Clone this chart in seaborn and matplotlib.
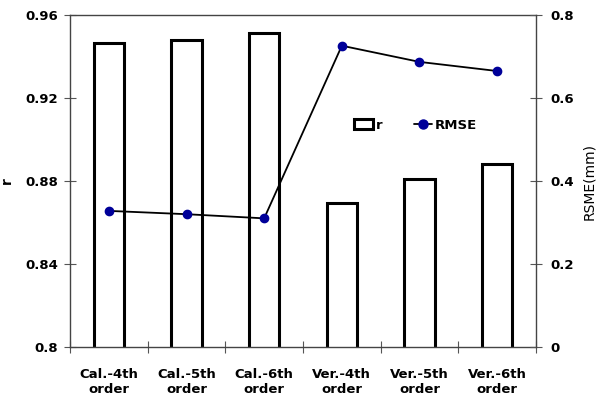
import matplotlib
matplotlib.use("Agg")
import matplotlib.pyplot as plt
import seaborn as sns
import pandas as pd
from matplotlib.patches import Patch
from matplotlib.lines import Line2D

categories = ["Cal.-4th\norder", "Cal.-5th\norder", "Cal.-6th\norder",
              "Ver.-4th\norder", "Ver.-5th\norder", "Ver.-6th\norder"]
r_values = [0.9464, 0.948, 0.9512, 0.8694, 0.881, 0.8882]
rmse_values = [0.328, 0.320, 0.310, 0.726, 0.687, 0.665]
r_ticks = [0.8, 0.84, 0.88, 0.92, 0.96]
r_ticklabels = ["0.8", "0.84", "0.88", "0.92", "0.96"]
rmse_ticks = [0, 0.2, 0.4, 0.6, 0.8]
rmse_ticklabels = ["0", "0.2", "0.4", "0.6", "0.8"]

df = pd.DataFrame({"cat": categories, "r": r_values, "rmse": rmse_values})

sns.set_style("white")
plt.rcParams["font.family"] = ["DejaVu Sans"]
plt.rcParams["text.color"] = "black"
plt.rcParams["axes.labelcolor"] = "black"
plt.rcParams["xtick.color"] = "black"
plt.rcParams["ytick.color"] = "black"

fig = plt.figure(figsize=(6.02, 4.03), dpi=100)
ax = fig.add_axes([70/602, 1 - 347/403, 466/602, 332/403])

sns.barplot(data=df, x="cat", y="r", order=categories, ax=ax, fill=False,
            color="black", width=0.39, linewidth=2.2, edgecolor="black",
            errorbar=None)
for p in ax.patches:
    p.set_edgecolor("black")
    p.set_facecolor("white")
    p.set_linewidth(2.2)

ax.set_ylim(0.8, 0.96)
ax.set_xlim(-0.5, len(categories) - 0.5)
ax.set_yticks(r_ticks)
ax.set_yticklabels(r_ticklabels, fontsize=9.5, fontweight="bold", color="black")
ax.set_xticks([i + 0.5 for i in range(-1, len(categories))], minor=False)
ax.set_xticklabels([])
ax.set_xticks(range(len(categories)), minor=True)
ax.set_xticklabels(categories, minor=True, fontsize=9.5, fontweight="bold", color="black")
ax.tick_params(axis="x", which="minor", length=0, pad=15, bottom=True)
ax.tick_params(axis="x", which="major", direction="inout", length=9, width=0.8,
               color="#555555", bottom=True)
ax.tick_params(axis="y", direction="inout", length=9, width=0.8, color="#555555",
               pad=4, left=True)
ax.set_xlabel("")
ax.set_ylabel("r", fontsize=10, fontweight="bold", labelpad=8, color="black")
for s in ["left", "bottom", "top"]:
    ax.spines[s].set_color("#444444")
    ax.spines[s].set_linewidth(1.0)
ax.spines["right"].set_visible(False)

ax2 = ax.twinx()
sns.pointplot(data=df, x="cat", y="rmse", order=categories, ax=ax2,
              color="black", markers="o", linewidth=1.3, markersize=6)
for ln in ax2.lines:
    ln.set_markerfacecolor("#000099")
    ln.set_markeredgecolor("#000099")
ax2.set_ylim(0, 0.8)
ax2.set_xlim(-0.5, len(categories) - 0.5)
ax2.set_yticks(rmse_ticks)
ax2.set_yticklabels(rmse_ticklabels, fontsize=9.5, fontweight="bold", color="black")
ax2.tick_params(axis="y", direction="inout", length=9, width=0.8, color="#555555",
                pad=6, right=True)
ax2.set_ylabel("RSME(mm)", fontsize=10, labelpad=6, color="black")
ax2.set_xlabel("")
for s in ["left", "bottom", "top"]:
    ax2.spines[s].set_visible(False)
ax2.spines["right"].set_color("#444444")
ax2.spines["right"].set_linewidth(1.0)

handles = [Patch(facecolor="white", edgecolor="black", linewidth=2.2, label="r"),
           Line2D([0], [0], color="black", marker="o", markerfacecolor="#000099",
                  markeredgecolor="#000099", markersize=6.5, linewidth=1.3, label="RMSE")]
leg = ax2.legend(handles=handles, loc="center left", bbox_to_anchor=(0.585, 0.668),
                 ncol=2, frameon=False, handlelength=1.4, handleheight=0.7,
                 handletextpad=0.2, columnspacing=2.4,
                 prop={"weight": "bold", "size": 9.5})

fig.savefig("out.png", dpi=100)
